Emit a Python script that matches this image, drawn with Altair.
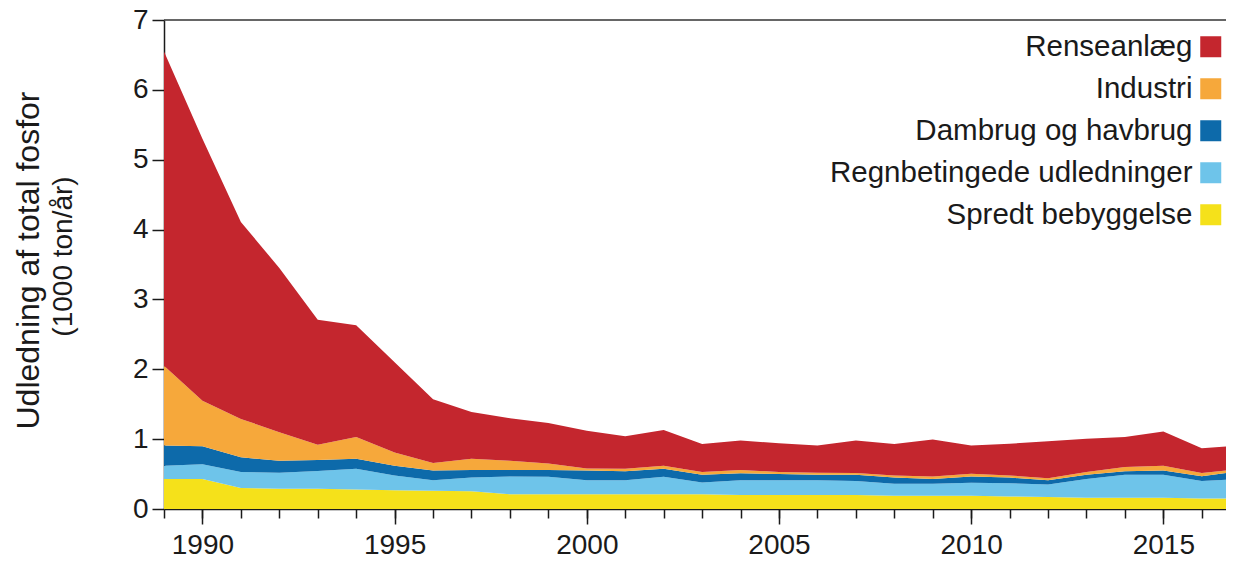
import altair as alt
import pandas as pd

years = list(range(1989, 2018))
names = ["Renseanlæg", "Industri", "Dambrug og havbrug",
         "Regnbetingede udledninger", "Spredt bebyggelse"]
colors = ["#C4262E", "#F6A83B", "#0D6AAA", "#6EC4EA", "#F5E11A"]

spredt = [0.43, 0.43, 0.30, 0.29, 0.29, 0.28, 0.27, 0.26, 0.255, 0.21,
          0.21, 0.21, 0.21, 0.21, 0.21, 0.20, 0.20, 0.20, 0.20, 0.19,
          0.19, 0.19, 0.18, 0.17, 0.16, 0.16, 0.16, 0.15, 0.15]
regn = [0.19, 0.21, 0.23, 0.23, 0.255, 0.295, 0.21, 0.15, 0.195, 0.255,
        0.25, 0.20, 0.20, 0.25, 0.17, 0.21, 0.21, 0.21, 0.20, 0.17,
        0.17, 0.185, 0.19, 0.18, 0.27, 0.33, 0.33, 0.25, 0.28]
dambrug = [0.29, 0.26, 0.21, 0.17, 0.155, 0.145, 0.14, 0.14, 0.11, 0.095,
           0.10, 0.14, 0.13, 0.115, 0.11, 0.10, 0.09, 0.08, 0.09, 0.09,
           0.07, 0.09, 0.08, 0.06, 0.06, 0.05, 0.06, 0.07, 0.11]
industri = [1.14, 0.65, 0.55, 0.41, 0.22, 0.31, 0.19, 0.11, 0.16, 0.13,
            0.09, 0.03, 0.035, 0.045, 0.04, 0.05, 0.03, 0.03, 0.025, 0.03,
            0.035, 0.04, 0.03, 0.03, 0.04, 0.06, 0.07, 0.045, 0.035]
rense = [4.50, 3.75, 2.82, 2.35, 1.79, 1.60, 1.29, 0.91, 0.67, 0.61,
         0.58, 0.54, 0.465, 0.51, 0.40, 0.42, 0.41, 0.39, 0.465, 0.45,
         0.53, 0.405, 0.455, 0.53, 0.475, 0.43, 0.49, 0.355, 0.335]

major_ticks = [1990, 1995, 2000, 2005, 2010, 2015]
minor_ticks = list(range(1989, 2017))
y_ticks = [0, 1, 2, 3, 4, 5, 6, 7]
y_title_1 = "Udledning af total fosfor"
y_title_2 = "(1000 ton/år)"

series = {
    "Spredt bebyggelse": spredt,
    "Regnbetingede udledninger": regn,
    "Dambrug og havbrug": dambrug,
    "Industri": industri,
    "Renseanlæg": rense,
}
rows = []
for order, (name, vals) in enumerate(series.items()):
    for yr, v in zip(years, vals):
        rows.append({"year": yr, "serie": name, "value": v, "ord": order})
df = pd.DataFrame(rows)

FONT = "Liberation Sans"
INK = "#1a1a1a"

xscale = alt.Scale(domain=[1989, 2016.63], nice=False, zero=False)
yscale = alt.Scale(domain=[0, 7], nice=False)

yaxis_main = alt.Axis(values=y_ticks, tickSize=12, labelPadding=4,
                      grid=False, domainColor=INK, domainWidth=1.5,
                      tickColor=INK, tickWidth=1.5, labelFontSize=28,
                      labelFont=FONT, labelColor=INK, orient="left",
                      title=y_title_1, titleFont=FONT, titleFontSize=32,
                      titleFontWeight="normal", titleColor=INK,
                      titleX=-151, titleY=240,
                      titleBaseline="top", titleAngle=270,
                      titleAlign="center")

yaxis_unit = alt.Axis(labels=False, ticks=False, domain=False, grid=False,
                      orient="left",
                      title=y_title_2, titleFont=FONT, titleFontSize=28,
                      titleFontWeight="normal", titleColor=INK,
                      titleX=-115, titleY=236,
                      titleBaseline="top", titleAngle=270,
                      titleAlign="center")

area = alt.Chart(df).mark_area(clip=True).encode(
    x=alt.X("year:Q", scale=xscale,
            axis=alt.Axis(values=major_ticks, format="d", tickSize=15,
                          labelPadding=7, title=None, grid=False,
                          domain=True, domainColor=INK, domainWidth=1.5,
                          tickColor=INK, tickWidth=1.5, labelFontSize=28,
                          labelFont=FONT, labelColor=INK, labelFlush=False,
                          orient="bottom")),
    y=alt.Y("value:Q", stack="zero", scale=yscale, axis=yaxis_main),
    color=alt.Color("serie:N",
                    scale=alt.Scale(domain=names, range=colors),
                    legend=alt.Legend(title=None, orient="none",
                                      legendX=1032, legendY=12,
                                      direction="vertical",
                                      symbolType="square", symbolSize=441,
                                      symbolStrokeWidth=0, symbolOpacity=1,
                                      labelAlign="right",
                                      labelOffset={"expr": "-33"},
                                      labelLimit=700, labelFontSize=29.5,
                                      labelFont=FONT, labelColor=INK,
                                      rowPadding=11, padding=0)),
    order=alt.Order("ord:Q"),
)

minor = alt.Chart(df).mark_point(opacity=0, clip=True).encode(
    x=alt.X("year:Q", scale=xscale,
            axis=alt.Axis(values=minor_ticks, tickSize=9, labels=False,
                          domain=False, title=None, grid=False,
                          tickColor=INK, tickWidth=1.5, orient="bottom")),
    y=alt.Y("value:Q", scale=yscale, axis=yaxis_unit),
)

top = alt.Chart(pd.DataFrame({"ymax": [7]})).mark_rule(
    color="#333333", strokeWidth=1.5).encode(
    y=alt.Y("ymax:Q", scale=yscale, axis=None))

chart = alt.layer(area, minor, top).resolve_axis(
    x="independent", y="independent").properties(
    width=1062, height=489,
    autosize=alt.AutoSizeParams(type="none"),
    padding={"left": 156, "top": 12, "right": 0, "bottom": 53},
).configure_view(stroke=None)

chart.save("out.html", embed_options={"renderer": "svg", "actions": False})
